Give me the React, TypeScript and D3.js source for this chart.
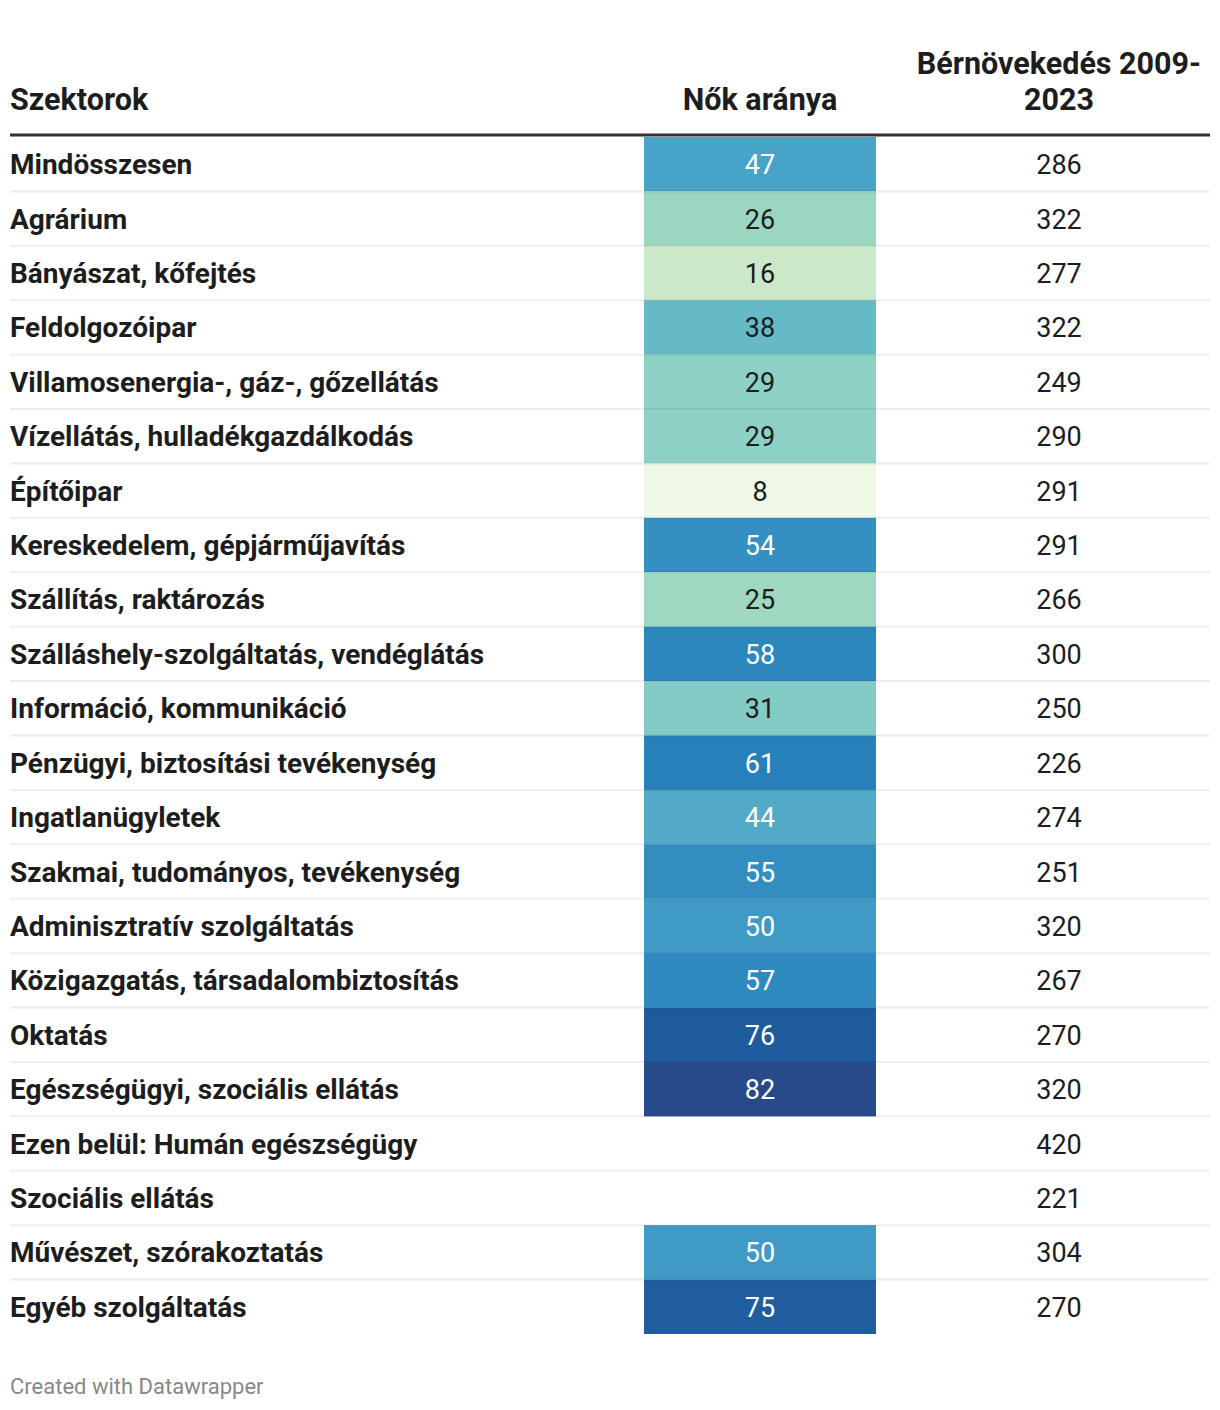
import React from "react";
import * as d3 from "d3";

const sectors = [
  "Mindösszesen",
  "Agrárium",
  "Bányászat, kőfejtés",
  "Feldolgozóipar",
  "Villamosenergia-, gáz-, gőzellátás",
  "Vízellátás, hulladékgazdálkodás",
  "Építőipar",
  "Kereskedelem, gépjárműjavítás",
  "Szállítás, raktározás",
  "Szálláshely-szolgáltatás, vendéglátás",
  "Információ, kommunikáció",
  "Pénzügyi, biztosítási tevékenység",
  "Ingatlanügyletek",
  "Szakmai, tudományos, tevékenység",
  "Adminisztratív szolgáltatás",
  "Közigazgatás, társadalombiztosítás",
  "Oktatás",
  "Egészségügyi, szociális ellátás",
  "Ezen belül: Humán egészségügy",
  "Szociális ellátás",
  "Művészet, szórakoztatás",
  "Egyéb szolgáltatás",
];

const womenShare: (number | null)[] = [
  47, 26, 16, 38, 29, 29, 8, 54, 25, 58, 31, 61, 44, 55, 50, 57, 76, 82, null, null, 50, 75,
];

const wageGrowth = [
  286, 322, 277, 322, 249, 290, 291, 291, 266, 300, 250, 226, 274, 251, 320, 267, 270, 320, 420, 221, 304, 270,
];

const headers = ["Szektorok", "Nők aránya", "Bérnövekedés 2009-", "2023"];

const colorDomain = [8, 16, 26, 29, 38, 47, 54, 61, 76, 82];
const colorRange = [
  "#f0f9e8", "#cbe9c9", "#9ad6c0", "#8dd0c4", "#66b9c7", "#48a3c8", "#3490c2", "#2680ba", "#1f5a9c", "#264a8a",
];

export default function App() {
  const W = 1220;
  const H = 1410;
  const left = 10;
  const right = 1210;
  const tableTop = 137;
  const tableBottom = 1334;
  const midX0 = 644;
  const midX1 = 876;
  const rightCenter = 1059;

  const y = d3
    .scaleBand<number>()
    .domain(d3.range(sectors.length))
    .range([tableTop, tableBottom]);
  const color = d3.scaleLinear<string>().domain(colorDomain).range(colorRange).interpolate(d3.interpolateRgb);

  const font = "Roboto, 'Noto Sans', sans-serif";
  const textColor = "#1d1d1d";

  return (
    <svg
      width={W}
      height={H}
      style={{ position: "absolute", left: 0, top: 0, background: "#fff" }}
      fontFamily={font}
    >
      <rect x={0} y={0} width={W} height={H} fill="#fff" />
      {/* header */}
      <g fontWeight={700} fontSize={30.5} fill={textColor}>
        <text x={left} y={110}>{headers[0]}</text>
        <text x={(midX0 + midX1) / 2} y={110} textAnchor="middle">{headers[1]}</text>
        <text x={rightCenter} y={74} textAnchor="middle">{headers[2]}</text>
        <text x={rightCenter} y={110} textAnchor="middle">{headers[3]}</text>
      </g>
      {/* cells */}
      {sectors.map((s, i) => {
        const y0 = y(i)!;
        const h = y.bandwidth();
        const cy = y0 + h / 2;
        const v = womenShare[i];
        return (
          <g key={s}>
            {v !== null && (
              <rect x={midX0} y={y0} width={midX1 - midX0} height={h} fill={color(v)} />
            )}
            <text x={left} y={cy + 10} fontSize={28} fontWeight={700} fill={textColor}>
              {s}
            </text>
            {v !== null && (
              <text
                x={(midX0 + midX1) / 2}
                y={cy + 10}
                fontSize={27}
                textAnchor="middle"
                fill={v >= 44 ? "#ffffff" : textColor}
              >
                {v}
              </text>
            )}
            <text x={rightCenter} y={cy + 10} fontSize={27} textAnchor="middle" fill={textColor}>
              {wageGrowth[i]}
            </text>
          </g>
        );
      })}
      {/* row separators */}
      {sectors.slice(1).map((s, i) => {
        const yy = y(i + 1)!;
        return (
          <line key={"sep" + s} x1={left} x2={right} y1={yy} y2={yy} stroke="rgba(0,0,0,0.07)" strokeWidth={2} />
        );
      })}
      <line x1={left} x2={right} y1={135} y2={135} stroke="#333" strokeWidth={3} />
      <text x={left} y={1394} fontSize={22} fill="#888">
        Created with Datawrapper
      </text>
    </svg>
  );
}
